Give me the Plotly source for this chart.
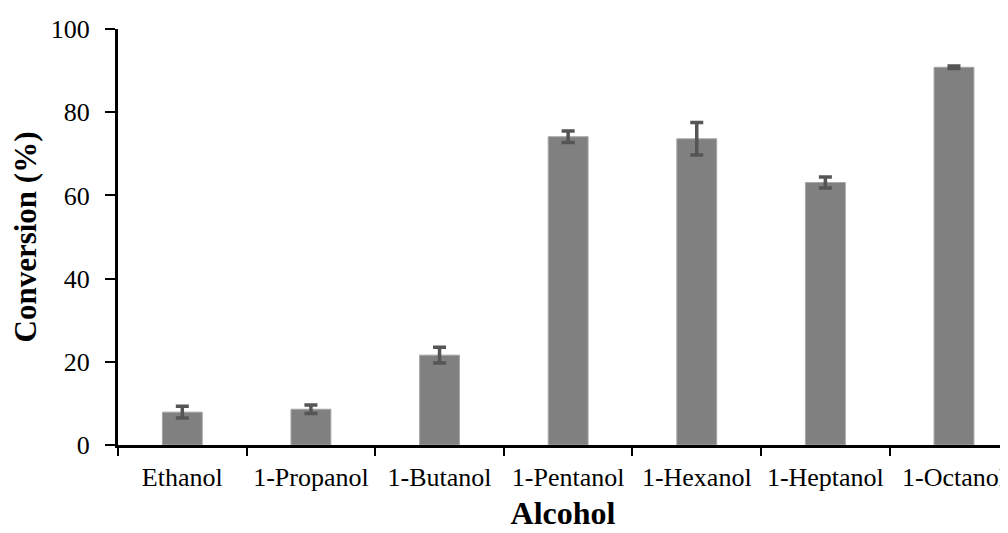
import plotly.graph_objects as go

alcohols = ["Ethanol", "1-Propanol", "1-Butanol", "1-Pentanol", "1-Hexanol", "1-Heptanol", "1-Octanol"]
conversion = [7.9, 8.6, 21.6, 74.1, 73.6, 63.1, 90.8]
error = [1.4, 1.0, 1.9, 1.4, 3.9, 1.3, 0.3]
y_ticks = [0, 20, 40, 60, 80, 100]

FONT = "Liberation Serif"

fig = go.Figure()
fig.add_trace(go.Bar(
    x=alcohols,
    y=conversion,
    width=0.31,
    marker=dict(color="#808080", line=dict(color="#a6a6a6", width=1)),
    error_y=dict(type="data", array=error, visible=True,
                 color="#555555", thickness=3.5, width=6.5),
    hoverinfo="x+y",
))

fig.update_layout(
    width=1000, height=525,
    margin=dict(l=110, r=0, t=21, b=88),
    paper_bgcolor="white", plot_bgcolor="white",
    showlegend=False,
    font=dict(family=FONT, color="black"),
)

fig.update_xaxes(
    type="category",
    range=[-0.5, 6.42],
    showline=True, linecolor="black", linewidth=3,
    ticks="outside", tickson="boundaries", ticklen=8, tickwidth=2, tickcolor="black",
    tickfont=dict(family=FONT, size=26, color="black"),
    ticklabelstandoff=7,
    title=dict(text="<b>Alcohol</b>", font=dict(family=FONT, size=32, color="black"), standoff=11),
    showgrid=False, zeroline=False, automargin=False,
)

fig.update_yaxes(
    range=[0, 100],
    tickvals=y_ticks,
    showline=True, linecolor="black", linewidth=3,
    ticks="outside", ticklen=10, tickwidth=2, tickcolor="black",
    tickfont=dict(family=FONT, size=26, color="black"),
    ticklabelstandoff=10,
    title=dict(text="<b>Conversion (%)</b>", font=dict(family=FONT, size=31, color="black"), standoff=7),
    showgrid=False, zeroline=False, automargin=False,
)

fig.write_html("out.html")
